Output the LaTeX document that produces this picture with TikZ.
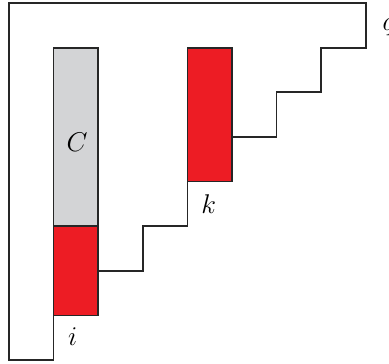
\documentclass[tikz,border=0pt]{standalone}
\usepackage{amsmath,amssymb}
\usepackage{xcolor}
\usepackage{tikz}
\usetikzlibrary{positioning}
\definecolor{blockred}{RGB}{237,28,36}
\definecolor{blockgray}{RGB}{211,212,214}

\begin{document}
\begin{tikzpicture}[
  edge/.style={line width=1.1pt, line join=miter, draw=black!85},
  lbl/.style={font=\fontsize{16}{19}\selectfont, inner sep=0pt}
]
\useasboundingbox (-0.2,-0.07) rectangle (8.52,8.07);

% Column C (gray top, red bottom)
\fill[blockgray] (1,3) rectangle (2,7);
\fill[blockred] (1,1) rectangle (2,3);
\draw[edge] (1,1) rectangle (2,7);
\draw[edge] (1,3) -- (2,3);

% Block k
\fill[blockred] (4,4) rectangle (5,7);
\draw[edge] (4,4) rectangle (5,7);

% Staircase outline
\draw[edge] (2,2) -- (3,2) -- (3,3) -- (4,3) -- (4,4);
\draw[edge] (5,5) -- (6,5) -- (6,6) -- (7,6) -- (7,7) -- (8,7)
  -- (8,8) -- (0,8) -- (0,0) -- (1,0) -- (1,1);

% Labels
\node[lbl] (labC) at (1.53,4.88) {$C$};
\node[lbl] (labk) at (4.48,3.49) {$k$};
\node[lbl] (labi) at (1.43,0.52) {$i$};
\node[lbl, anchor=west] (labq) at (8.37,7.45) {$q$};
\end{tikzpicture}
\end{document}
